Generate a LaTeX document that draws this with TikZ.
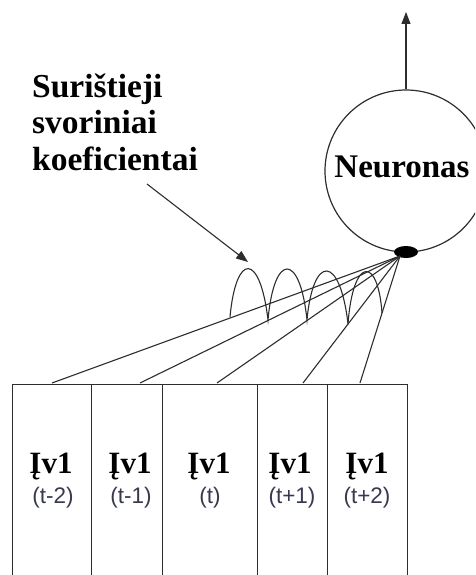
\documentclass[tikz,border=0pt]{standalone}
\usepackage{fontspec}
\setmainfont{Liberation Serif}
\newfontfamily\subfont{Liberation Sans}
\usetikzlibrary{arrows.meta,shapes.geometric}
\definecolor{ink}{RGB}{45,45,45}
\definecolor{subcol}{RGB}{55,57,78}
\tikzset{
  wire/.style={draw=ink, line width=1.1pt},
  boxcell/.style={draw=ink, line width=1.3pt, rectangle, anchor=north west, minimum height=220pt, inner sep=0pt},
  biglabel/.style={font=\bfseries\fontsize{33.5}{36}\selectfont, inner sep=0pt, anchor=base west},
  inlabel/.style={font=\bfseries\fontsize{31}{33}\selectfont, inner sep=0pt, anchor=base},
  sublabel/.style={font=\subfont\fontsize{22.5}{24}\selectfont, text=subcol, inner sep=0pt, anchor=base},
  arrowtip/.style={-{Triangle[length=12pt,width=9pt]}}
}
\begin{document}
\begin{tikzpicture}[x=1pt,y=-1pt]
\useasboundingbox (0,0) rectangle (475,575);
\clip (0,0) rectangle (475,575);
% neuron
\node[circle, draw=ink, line width=1.2pt, minimum size=162pt, inner sep=0pt] (neuron) at (406,171) {};
\node[font=\bfseries\fontsize{33}{36}\selectfont, inner sep=0pt, anchor=base] (nlab) at (402,177) {Neuronas};
\coordinate (out) at (406,12);
\draw[wire, arrowtip] (neuron.north) -- (out);
% blob
\node[ellipse, fill=black, minimum width=24pt, minimum height=12pt, inner sep=0pt] (blob) at (406,252) {};
\coordinate (hub) at (400,256);
% text
\node[biglabel] (l1) at (32,98) {Surištieji};
\node[biglabel] (l2) at (32,133) {svoriniai};
\node[biglabel] (l3) at (32,170) {koeficientai};
\coordinate (pa) at (147,184);
\coordinate (pb) at (248,262);
\draw[wire, arrowtip] (pa) -- (pb);
% boxes
\node[boxcell, minimum width=79pt] (b1) at (12,384) {};
\node[boxcell, minimum width=71pt] (b2) at (91,384) {};
\node[boxcell, minimum width=95pt] (b3) at (162,384) {};
\node[boxcell, minimum width=70pt] (b4) at (257,384) {};
\node[boxcell, minimum width=80pt] (b5) at (327,384) {};
% box labels
\node[inlabel] (i1) at (51,473) {Įv1};
\node[inlabel] (i2) at (130,473) {Įv1};
\node[inlabel] (i3) at (209,473) {Įv1};
\node[inlabel] (i4) at (290,473) {Įv1};
\node[inlabel] (i5) at (367,473) {Įv1};
\node[sublabel] (s1) at (53,503) {(t-2)};
\node[sublabel] (s2) at (131,503) {(t-1)};
\node[sublabel] (s3) at (210,503) {(t)};
\node[sublabel] (s4) at (292,503) {(t+1)};
\node[sublabel] (s5) at (367,503) {(t+2)};
% connection lines
\coordinate (t1) at (52,383);
\coordinate (t2) at (140,383);
\coordinate (t3) at (217,383);
\coordinate (t4) at (303,383);
\coordinate (t5) at (360,383);
\foreach \t in {t1,t2,t3,t4,t5} \draw[wire] (hub) -- (\t);
% weight arches
\coordinate (f1) at (230,317);
\coordinate (f2) at (268,320);
\coordinate (f3) at (307,320);
\coordinate (f4) at (348,324);
\coordinate (f5) at (382,313);
\draw[wire] (f1) .. controls (236,252) and (260,252) .. (f2)
            .. controls (274,252) and (300,252) .. (f3)
            .. controls (313,254) and (340,254) .. (f4)
            .. controls (353,256) and (378,256) .. (f5);
\end{tikzpicture}
\end{document}
